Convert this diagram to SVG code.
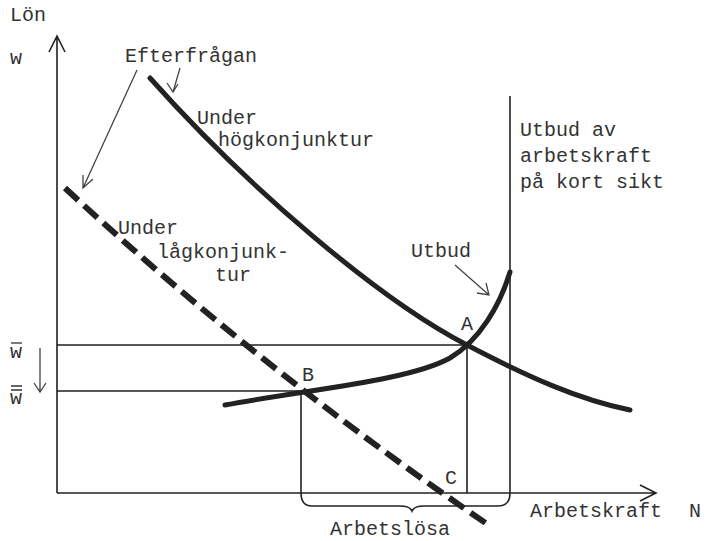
<svg xmlns="http://www.w3.org/2000/svg" width="707" height="541" viewBox="0 0 707 541">
<style>
text{font-family:"Liberation Mono","Courier New",monospace;font-size:20px;fill:#333}
.thin{stroke:#222;stroke-width:1.6;fill:none}
.thick{stroke:#222;stroke-width:5;fill:none;stroke-linecap:round}
.arr{stroke:#444;stroke-width:1.3;fill:none}
</style>
<rect width="707" height="541" fill="#fff"/>
<g id="axes">
<path class="thin" d="M57,493 V38 M49,52 L57,36 L65,52" stroke-width="2.5"/>
<path class="thin" d="M57,493 H655 M640,485 L656,493 L640,501" stroke-width="2"/>
</g>
<g id="connectors">
<path class="thin" d="M57,345 H467 V493"/>
<path class="thin" d="M57,391 H301 V493"/>
<path class="thin" d="M510,96 V493"/>
<path class="thin" d="M301,493 Q301,506 312,506 H400 Q410,506 412,511 Q414,506 424,506 H498 Q510,506 510,493"/>
<path class="thick" d="M150,78 C250,190 380,300 467,345 C530,378 580,400 630,410"/>
<path class="thick" d="M225,405 C320,388 410,380 450,358 C480,340 500,305 510,272"/>
<path d="M65,188 Q261,370 490,526" stroke="#222" stroke-width="6" stroke-dasharray="18,8" fill="none"/>
<path class="arr" d="M137,70 L83,188 M83,175 L83,188 L93,179"/>
<path class="arr" d="M180,68 L173,92 M167,83 L173,92 L178,84"/>
<path class="arr" d="M455,265 L489,295 M477,293 L489,295 L486,283"/>
<path class="arr" d="M40,348 V392 M34,383 L40,392 L46,383" stroke-width="1.6"/>
</g>
<g id="labels">
<text x="10" y="21">Lön</text>
<text x="10" y="64">w</text>
<text x="10" y="358">w</text>
<path d="M11,343 H22" stroke="#333" stroke-width="1.3"/>
<text x="10" y="404">w</text>
<path d="M11,386 H22 M11,390 H22" stroke="#333" stroke-width="1.3"/>
<text x="125" y="62">Efterfrågan</text>
<text x="197" y="124">Under</text>
<text x="218" y="146">högkonjunktur</text>
<text x="118" y="234">Under</text>
<text x="157" y="258">lågkonjunk-</text>
<text x="215" y="281">tur</text>
<text x="520" y="136">Utbud av</text>
<text x="520" y="162">arbetskraft</text>
<text x="520" y="188">på kort sikt</text>
<text x="411" y="257">Utbud</text>
<text x="461" y="330">A</text>
<text x="302" y="381">B</text>
<text x="445" y="484">C</text>
<text x="530" y="517">Arbetskraft</text>
<text x="689" y="517">N</text>
<text x="330" y="535">Arbetslösa</text>
</g>
</svg>
